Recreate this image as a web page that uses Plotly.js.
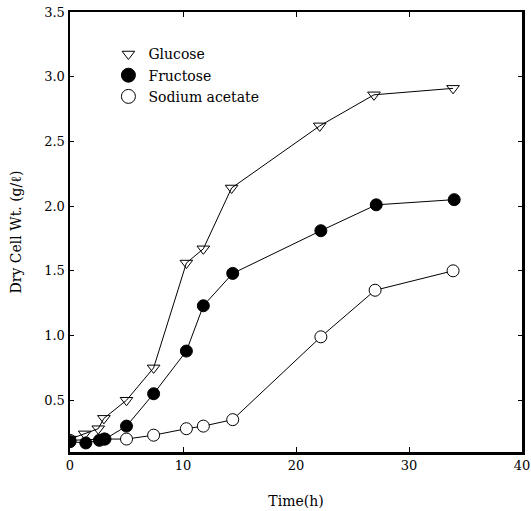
<!DOCTYPE html>
<html>
<head>
<meta charset="utf-8">
<script src="https://cdn.plot.ly/plotly-3.0.1.min.js"></script>
<style>html,body{margin:0;padding:0;background:#fff;}#chart{width:531px;height:511px;}</style>
</head>
<body>
<div id="chart"></div>
<script>
const glucoseTime = [0, 1.3, 2.5, 3.0, 5.0, 7.4, 10.3, 11.8, 14.3, 22.1, 26.9, 33.9];
const glucoseDW   = [0.20, 0.24, 0.28, 0.36, 0.50, 0.75, 1.56, 1.67, 2.14, 2.62, 2.86, 2.91];
const fructoseTime = [0, 1.4, 2.6, 3.1, 5.0, 7.4, 10.3, 11.8, 14.4, 22.2, 27.1, 34.0];
const fructoseDW   = [0.18, 0.17, 0.19, 0.20, 0.30, 0.55, 0.88, 1.23, 1.48, 1.81, 2.01, 2.05];
const acetateTime = [0, 3.0, 5.0, 7.4, 10.3, 11.8, 14.4, 22.2, 27.0, 33.9];
const acetateDW   = [0.19, 0.20, 0.20, 0.23, 0.28, 0.30, 0.35, 0.99, 1.35, 1.50];
const seriesNames = ['Glucose', 'Fructose', 'Sodium acetate'];
const xTicks = [0, 10, 20, 30, 40];
const yTicks = [0.5, 1.0, 1.5, 2.0, 2.5, 3.0, 3.5];

const FAM = '"DejaVu Serif", "Liberation Serif", serif';
const mk = [
  {symbol: 'triangle-down-open', size: 11, color: '#000', line: {width: 1, color: '#000'}},
  {symbol: 'circle', size: 12, color: '#000', line: {width: 1, color: '#000'}},
  {symbol: 'circle', size: 12, color: '#fff', line: {width: 1, color: '#000'}}
];
const xs = [glucoseTime, fructoseTime, acetateTime];
const ys = [glucoseDW, fructoseDW, acetateDW];

const traces = [];
// draw order: acetate, glucose, fructose (filled circles on top, as in the reference)
[2, 0, 1].forEach(i => {
  traces.push({x: xs[i], y: ys[i], name: seriesNames[i], mode: 'lines+markers', showlegend: false,
    line: {color: '#000', width: 1}, marker: mk[i]});
});
for (let i = 0; i < 3; i++) {
  traces.push({x: [null], y: [null], name: seriesNames[i], mode: 'markers', showlegend: true,
    marker: Object.assign({}, mk[i], {size: i === 0 ? 11 : 14})});
}

const layout = {
  width: 531, height: 511,
  margin: {l: 70, r: 9, t: 12, b: 59},
  paper_bgcolor: '#fff', plot_bgcolor: '#fff',
  font: {family: FAM, size: 13, color: '#000'},
  showlegend: true,
  legend: {x: 0.085, y: 0.94, xanchor: 'left', yanchor: 'top', bgcolor: 'rgba(0,0,0,0)',
           font: {family: FAM, size: 14, color: '#000'}, tracegroupgap: 0, itemwidth: 30},
  xaxis: {
    range: [0, 40], tickvals: xTicks, ticktext: xTicks.map(String),
    ticks: 'inside', ticklen: 5, tickwidth: 1, tickcolor: '#000',
    showline: true, linewidth: 2.5, linecolor: '#000', mirror: 'ticks',
    showgrid: false, zeroline: false,
    tickfont: {family: FAM, size: 13, color: '#000'},
    title: {text: 'Time(h)', font: {family: FAM, size: 14, color: '#000'}, standoff: 24}
  },
  yaxis: {
    range: [0.1, 3.5], tickvals: yTicks, ticktext: yTicks.map(v => v.toFixed(1)),
    ticks: 'inside', ticklen: 4, tickwidth: 1, tickcolor: '#000',
    showline: true, linewidth: 2.5, linecolor: '#000', mirror: 'ticks',
    showgrid: false, zeroline: false,
    tickfont: {family: FAM, size: 13, color: '#000'},
    title: {text: 'Dry Cell Wt. (g/ℓ)', font: {family: FAM, size: 14, color: '#000'}, standoff: 20}
  }
};

Plotly.newPlot('chart', traces, layout, {displayModeBar: false, staticPlot: true});
</script>
</body>
</html>
